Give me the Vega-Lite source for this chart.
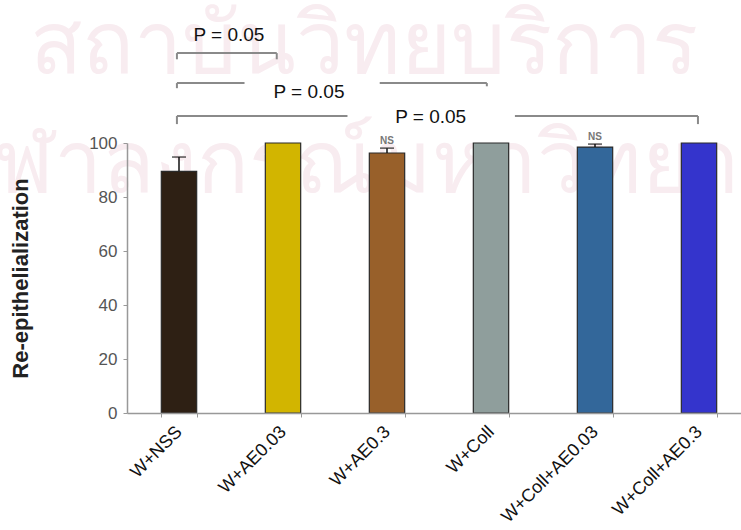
{
  "$schema": "https://vega.github.io/schema/vega-lite/v6.json",
  "width": 614,
  "height": 270,
  "autosize": "none",
  "padding": {"left": 127, "top": 143, "right": 0, "bottom": 117},
  "background": "white",
  "config": {"font": "Liberation Sans", "view": {"stroke": null}},
  "datasets": {
    "bars": [
      {"group": "W+NSS", "value": 89.5},
      {"group": "W+AE0.03", "value": 100},
      {"group": "W+AE0.3", "value": 96.3},
      {"group": "W+Coll", "value": 100},
      {"group": "W+Coll+AE0.03", "value": 98.5},
      {"group": "W+Coll+AE0.3", "value": 100}
    ],
    "errors": [
      {"group": "W+NSS", "value": 89.5, "upper": 94.8},
      {"group": "W+AE0.3", "value": 96.3, "upper": 98.1},
      {"group": "W+Coll+AE0.03", "value": 98.5, "upper": 99.6}
    ],
    "notes": [
      {"group": "W+AE0.3", "upper": 98.1, "note": "NS"},
      {"group": "W+Coll+AE0.03", "upper": 99.6, "note": "NS"}
    ],
    "brackets": [
      {"u1": 0.48, "u2": 1.44, "v1": 133.3, "v2": 133.3},
      {"u1": 0.48, "u2": 0.48, "v1": 133.3, "v2": 131.0},
      {"u1": 1.44, "u2": 1.44, "v1": 133.3, "v2": 131.0},
      {"u1": 0.48, "u2": 1.13, "v1": 122.2, "v2": 122.2},
      {"u1": 2.43, "u2": 3.46, "v1": 122.2, "v2": 122.2},
      {"u1": 0.48, "u2": 0.48, "v1": 122.2, "v2": 120.3},
      {"u1": 3.46, "u2": 3.46, "v1": 122.2, "v2": 121.0},
      {"u1": 0.48, "u2": 2.12, "v1": 110, "v2": 110},
      {"u1": 3.73, "u2": 5.49, "v1": 110, "v2": 110},
      {"u1": 0.48, "u2": 0.48, "v1": 110, "v2": 107},
      {"u1": 5.49, "u2": 5.49, "v1": 110, "v2": 107}
    ],
    "plabels": [
      {"u": 0.98, "v": 140, "text": "P = 0.05"},
      {"u": 1.75, "v": 118.9, "text": "P = 0.05"},
      {"u": 2.92, "v": 109.6, "text": "P = 0.05"}
    ],
    "watermark": [
      {"u": -0.93, "v": 126, "text": "สถาบันวิทยบริการ"},
      {"u": -1.75, "v": 82, "text": "จุฬาลงกรณ์มหาวิทยาลัย"}
    ]
  },
  "layer": [
    {
      "data": {"name": "watermark"},
      "mark": {"type": "text", "align": "left", "baseline": "alphabetic", "fontSize": 86, "color": "#f8ecf0", "font": "Noto Sans"},
      "encoding": {
        "x": {"field": "u", "type": "quantitative", "scale": {"domain": [0, 6], "range": [0, 624], "nice": false, "zero": false}, "axis": null},
        "y": {"field": "v", "type": "quantitative", "scale": {"domain": [0, 100]}},
        "text": {"field": "text"}
      }
    },
    {
      "encoding": {
        "x": {
          "field": "group", "type": "nominal", "sort": null,
          "scale": {"range": [0, 624], "paddingInner": 0.66, "paddingOuter": 0.33},
          "axis": {"title": null, "zindex": 1, "labelAngle": -45, "labelAlign": "right", "labelBaseline": "middle", "labelFontSize": 18, "labelColor": "#111", "labelDx": -3, "tickBand": "extent", "tickSize": 4, "tickColor": "#999", "domainColor": "#999", "domainWidth": 1.5, "labelPadding": 12}
        }
      },
      "layer": [
        {
          "data": {"name": "bars"},
          "mark": {"type": "bar", "stroke": "#2a2a2a", "strokeWidth": 1.2},
          "encoding": {
            "y": {
              "field": "value", "type": "quantitative", "scale": {"domain": [0, 100]},
              "axis": {"title": "Re-epithelialization", "zindex": 1, "titleFontSize": 22, "titleFontWeight": "bold", "titleColor": "#222", "titlePadding": 56, "values": [0, 20, 40, 60, 80, 100], "labelFontSize": 17, "labelColor": "#555", "tickSize": 4, "tickColor": "#999", "domainColor": "#999", "domainWidth": 1.5, "grid": false, "labelPadding": 6}
            },
            "color": {
              "field": "group", "type": "nominal", "legend": null,
              "scale": {"domain": ["W+NSS", "W+AE0.03", "W+AE0.3", "W+Coll", "W+Coll+AE0.03", "W+Coll+AE0.3"],
                        "range": ["#2e2014", "#d2b500", "#98602a", "#8f9e9c", "#33679a", "#3434cc"]}
            }
          }
        },
        {
          "data": {"name": "errors"},
          "mark": {"type": "rule", "color": "#111", "strokeWidth": 1.5},
          "encoding": {
            "y": {"field": "value", "type": "quantitative", "scale": {"domain": [0, 100]}},
            "y2": {"field": "upper"}
          }
        },
        {
          "data": {"name": "errors"},
          "mark": {"type": "tick", "color": "#111", "thickness": 1.5, "size": 14},
          "encoding": {
            "y": {"field": "upper", "type": "quantitative", "scale": {"domain": [0, 100]}}
          }
        },
        {
          "data": {"name": "notes"},
          "mark": {"type": "text", "baseline": "bottom", "dy": -2, "fontSize": 10, "fontWeight": "bold", "color": "#777"},
          "encoding": {
            "y": {"field": "upper", "type": "quantitative", "scale": {"domain": [0, 100]}},
            "text": {"field": "note"}
          }
        }
      ]
    },
    {
      "encoding": {
        "x": {"field": "u1", "type": "quantitative", "scale": {"domain": [0, 6], "range": [0, 624], "nice": false, "zero": false}, "axis": null}
      },
      "layer": [
        {
          "data": {"name": "brackets"},
          "mark": {"type": "rule", "color": "#8a8a8a", "strokeWidth": 2},
          "encoding": {
            "x2": {"field": "u2"},
            "y": {"field": "v1", "type": "quantitative", "scale": {"domain": [0, 100]}},
            "y2": {"field": "v2"}
          }
        },
        {
          "data": {"name": "plabels"},
          "mark": {"type": "text", "align": "center", "baseline": "middle", "fontSize": 19, "color": "#111"},
          "encoding": {
            "x": {"field": "u", "type": "quantitative", "scale": {"domain": [0, 6], "range": [0, 624], "nice": false, "zero": false}, "axis": null},
            "y": {"field": "v", "type": "quantitative", "scale": {"domain": [0, 100]}},
            "text": {"field": "text"}
          }
        }
      ]
    }
  ],
  "resolve": {"scale": {"x": "independent"}}
}
